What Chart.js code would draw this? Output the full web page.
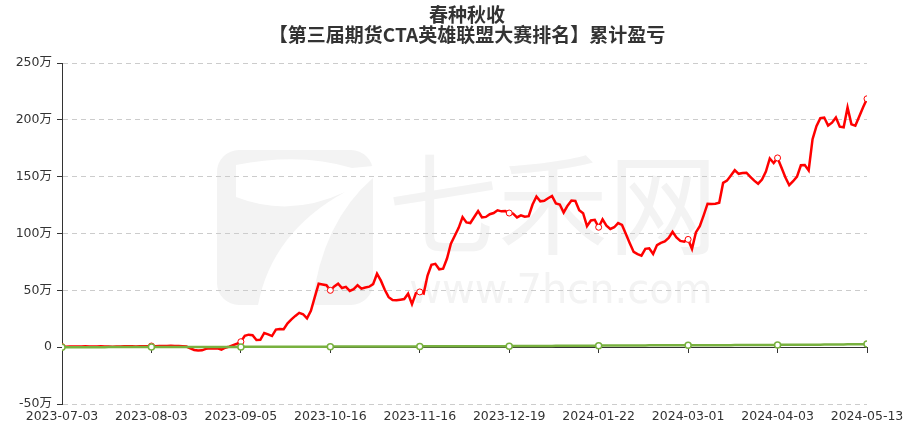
<!DOCTYPE html>
<html>
<head>
<meta charset="utf-8">
<script src="https://cdn.jsdelivr.net/npm/chart.js@4.4.1/dist/chart.umd.min.js"></script>
<style>
html,body{margin:0;padding:0;background:#fff;}
#wrap{width:914px;height:429px;}
</style>
</head>
<body>
<div id="wrap"><canvas id="c" width="914" height="429"></canvas></div>
<script>
// ---- data (values in 万) ----
const titleLines = ['春种秋收', '【第三届期货CTA英雄联盟大赛排名】累计盈亏'];
const xTickLabels = ['2023-07-03','2023-08-03','2023-09-05','2023-10-16','2023-11-16','2023-12-19','2024-01-22','2024-03-01','2024-04-03','2024-05-13'];
const yTickUnit = '万';
const labelEvery = 23; // one axis label every 23 trading days

const redValues = [
  0.5,0.4,0.5,0.6,0.5,0.6,0.7,0.6,0.5,0.6,
  0.7,0.6,0.5,0.4,0.5,0.6,0.7,0.8,0.7,0.6,
  0.7,0.8,0.9,1.0,0.9,1.0,1.1,1.0,1.2,1.1,
  1.0,0.8,0.5,-1.0,-2.5,-3.0,-2.8,-1.5,-1.0,-1.2,
  -1.0,-2.2,-0.5,0.5,1.8,3.0,4.8,
  10.0,11.0,10.5,6.3,6.5,12.5,11.3,9.8,15.5,16.0,
  15.8,21.0,24.5,27.5,30.2,29.0,25.3,32.0,44.0,55.8,
  55.2,54.5,50.0,53.5,55.8,52.0,53.0,49.5,51.0,54.5,
  51.5,52.5,53.2,55.5,64.6,58.5,50.5,44.0,41.5,41.3,
  41.8,42.3,47.0,37.8,47.5,48.6,47.2,63.0,72.5,73.3,
  68.5,69.0,78.0,91.0,98.0,105.0,114.5,109.8,109.2,114.5,
  119.8,114.2,114.6,117.0,118.0,120.4,119.5,119.7,118.0,117.5,
  114.2,116.0,114.7,115.3,125.5,132.5,128.3,128.8,131.0,133.0,
  126.5,125.5,118.5,124.5,129.0,128.6,120.5,117.9,106.5,111.5,
  112.0,105.5,112.5,106.9,104.0,105.5,109.2,107.5,99.5,91.5,
  83.8,81.8,80.5,86.5,87.0,82.0,89.8,91.8,93.0,96.2,
  101.5,96.5,93.5,92.8,94.8,86.5,101.0,106.5,116.0,126.2,
  125.9,126.1,127.0,144.5,146.5,151.0,155.7,152.5,153.2,153.5,
  149.8,146.5,143.8,147.5,154.5,166.0,162.0,166.5,158.0,149.5,
  142.5,146.0,150.0,160.0,160.2,155.5,183.0,194.5,201.5,202.0,
  195.0,197.5,202.0,194.0,193.4,210.8,196.0,194.8,203.0,211.0,
  218.5
];

const greenValues = [
  0,0,0,0,0,0,0,0,0,0,
  0,0,0.1,0.1,0.1,0.1,0.1,0.1,0.1,0.1,
  0.1,0.1,0.1,0.1,0.1,0.1,0.1,0.1,0.1,0.1,
  0.1,0.2,0.2,0.2,0.2,0.2,0.2,0.2,0.2,0.2,
  0.2,0.2,0.2,0.2,0.2,0.2,0.2,0.3,0.3,0.3,
  0.3,0.3,0.3,0.3,0.3,0.3,0.3,0.3,0.3,0.3,
  0.3,0.4,0.4,0.4,0.4,0.4,0.4,0.4,0.4,0.4,
  0.5,0.5,0.5,0.5,0.5,0.5,0.5,0.5,0.5,0.5,
  0.5,0.6,0.6,0.6,0.6,0.6,0.6,0.6,0.6,0.6,
  0.6,0.6,0.6,0.8,0.8,0.8,0.8,0.8,0.8,0.8,
  0.8,0.8,0.8,0.8,0.8,0.9,0.9,0.9,0.9,0.9,
  0.9,0.9,0.9,0.9,0.9,0.9,1.0,1.0,1.0,1.0,
  1.0,1.0,1.0,1.0,1.0,1.0,1.0,1.2,1.2,1.2,
  1.2,1.2,1.2,1.2,1.2,1.2,1.2,1.2,1.2,1.4,
  1.4,1.4,1.4,1.4,1.4,1.4,1.4,1.4,1.4,1.4,
  1.4,1.6,1.6,1.6,1.6,1.6,1.6,1.6,1.6,1.6,
  1.6,1.6,1.7,1.7,1.7,1.7,1.7,1.7,1.7,1.7,
  1.7,1.7,1.7,1.9,1.9,1.9,1.9,1.9,1.9,1.9,
  1.9,1.9,1.9,1.9,1.9,2.2,2.2,2.2,2.2,2.2,
  2.2,2.2,2.2,2.2,2.2,2.2,2.3,2.3,2.3,2.3,
  2.3,2.3,2.5,2.5,2.5,2.5,2.6,2.7
];

const RED = '#ff0000';
const GREEN = '#78b13f';
const CJK = '"Noto Sans CJK SC", sans-serif';
const LATIN = '"DejaVu Sans", "Noto Sans CJK SC", sans-serif';

const watermark = {
  id: 'watermark',
  beforeDraw(chart) {
    const ctx = chart.ctx;
    ctx.save();
    ctx.fillStyle = '#ffffff';
    ctx.fillRect(0, 0, chart.width, chart.height);
    const g = '#f3f3f3';
    // logo square
    ctx.fillStyle = g;
    ctx.beginPath();
    ctx.roundRect(217, 150, 156, 155, 22);
    ctx.fill();
    // white "7" stroke
    ctx.fillStyle = '#ffffff';
    ctx.beginPath();
    ctx.moveTo(236, 165);
    ctx.quadraticCurveTo(300, 152, 352, 168);
    ctx.lineTo(373, 166);
    ctx.lineTo(373, 178);
    ctx.quadraticCurveTo(322, 222, 312, 305);
    ctx.lineTo(258, 305);
    ctx.quadraticCurveTo(272, 232, 345, 192);
    ctx.quadraticCurveTo(290, 218, 236, 197);
    ctx.closePath();
    ctx.fill();
    // text marks
    ctx.fillStyle = g;
    ctx.textAlign = 'center';
    ctx.textBaseline = 'middle';
    ctx.font = '110px ' + CJK;
    ctx.fillText('七禾网', 553, 204);
    ctx.textBaseline = 'alphabetic';
    ctx.font = '40px "DejaVu Sans", sans-serif';
    ctx.fillText('www.7hcn.com', 561, 303);
    ctx.restore();
  }
};

const pointSize = (c) => (c.index % labelEvery === 0 ? 3 : 0);

new Chart(document.getElementById('c'), {
  type: 'line',
  data: {
    datasets: [
      {
        data: greenValues.map((v, i) => ({x: i, y: v})),
        borderColor: GREEN, borderWidth: 2.5,
        pointRadius: pointSize, pointBackgroundColor: '#fff',
        pointBorderColor: GREEN, pointBorderWidth: 1.5,
        tension: 0, xAxisID: 'x', yAxisID: 'y'
      },
      {
        data: redValues.map((v, i) => ({x: i, y: v})),
        borderColor: RED, borderWidth: 2.5,
        pointRadius: pointSize, pointBackgroundColor: '#fff',
        pointBorderColor: RED, pointBorderWidth: 1,
        tension: 0, xAxisID: 'x', yAxisID: 'y'
      }
    ]
  },
  options: {
    responsive: false,
    animation: false,
    events: [],
    layout: {padding: {left: 0, right: -20, top: 0, bottom: 0}},
    plugins: {
      legend: {display: false},
      tooltip: {enabled: false},
      title: {
        display: true, text: titleLines, color: '#333',
        font: {family: CJK, size: 19, weight: 'bold', lineHeight: 20 / 19},
        padding: {top: 5, bottom: 18}
      }
    },
    scales: {
      x: {
        type: 'linear', position: 'bottom', min: 0, max: redValues.length - 1,
        afterFit: (s) => { s.height = 25; },
        border: {display: false},
        grid: {display: false, drawTicks: false},
        ticks: {
          stepSize: labelEvery, autoSkip: false, maxRotation: 0, padding: 5,
          color: '#333', font: {family: LATIN, size: 12.5},
          callback: (v) => xTickLabels[v / labelEvery] ?? ''
        }
      },
      xz: {
        type: 'linear', position: {y: 0}, min: 0, max: redValues.length - 1,
        border: {display: true, color: '#333', width: 1},
        grid: {drawOnChartArea: false, drawTicks: true, tickLength: 5, tickColor: '#333'},
        ticks: {display: false, stepSize: labelEvery}
      },
      y: {
        min: -50, max: 250,
        afterFit: (s) => { s.width = 62; },
        border: {display: true, color: '#333', width: 1, dash: [5, 4]},
        grid: {color: '#cccccc', lineWidth: 1, tickLength: 5, tickColor: '#333', tickBorderDash: []},
        ticks: {
          stepSize: 50, padding: 5, color: '#333', font: {family: LATIN, size: 12.5},
          callback: (v) => (v === 0 ? '0' : v + yTickUnit)
        }
      },
      ySpace: {
        position: 'right', min: -50, max: 250,
        afterFit: (s) => { s.width = 67; },
        border: {display: false},
        grid: {display: false, drawTicks: false},
        ticks: {display: false}
      }
    }
  },
  plugins: [watermark]
});
</script>
</body>
</html>
